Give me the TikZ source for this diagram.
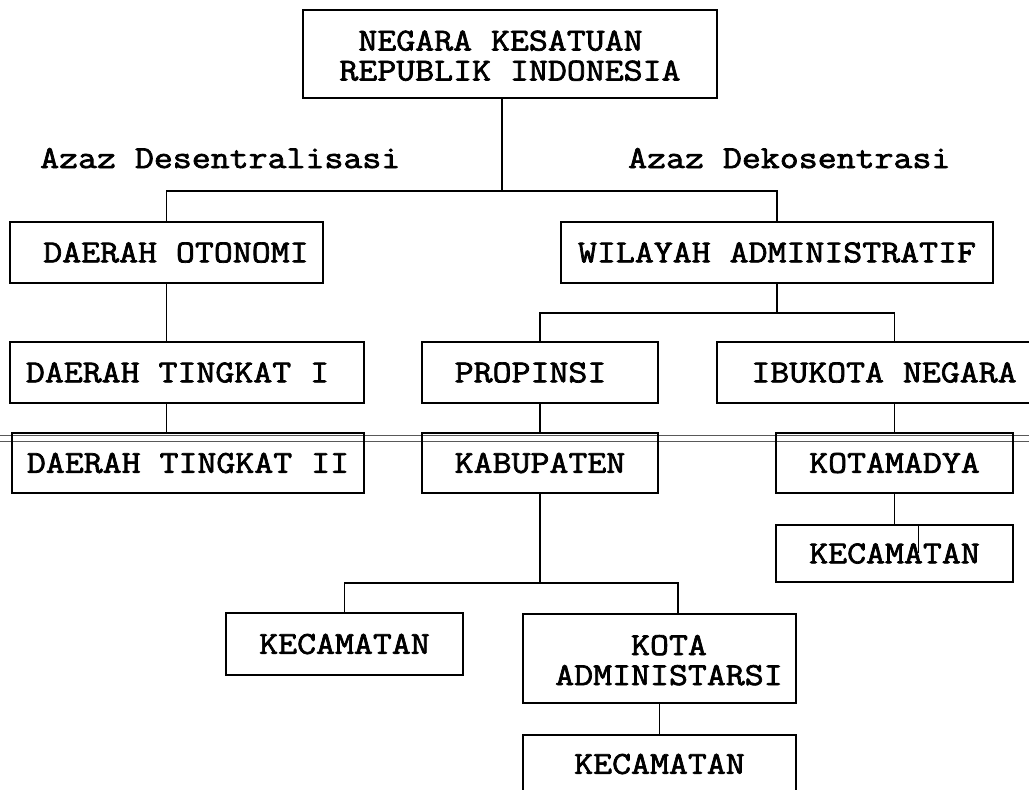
\documentclass[tikz,border=0pt]{standalone}
\usepackage{fontspec}
\newfontfamily\tw{Latin Modern Mono}[FakeStretch=1.15, FakeBold=2.2]
\tikzset{
  box/.style={draw, line width=2.5pt, inner sep=0pt, anchor=center,
    font=\tw\fontsize{32}{30}\selectfont},
  conn/.style={line width=1.7pt},
  lbl/.style={inner sep=0pt, font=\tw\fontsize{32}{30}\selectfont},
  artifact/.style={line width=0.8pt, black!65},
}
\begin{document}
\begin{tikzpicture}[x=1pt,y=-1pt]
\useasboundingbox[fill=white] (0,0) rectangle (1029,790);

% scan artifacts (double line across the sheet)
\draw[artifact] (0,435.5) -- (1029,435.5);
\draw[artifact] (0,441) -- (1029,441);

% boxes
\node[box, minimum width=414pt, minimum height=88pt] (ngr) at (510,54)
  {\begin{tabular}{@{}l@{}}\rule{0pt}{32pt}\hphantom{X}NEGARA KESATUAN\\REPUBLIK INDONESIA\end{tabular}};

\node[lbl, anchor=base west] (azd) at (40,168) {Azaz Desentralisasi};
\node[lbl, anchor=base west] (azk) at (628,168) {Azaz Dekosentrasi};

\node[box, minimum width=313pt, minimum height=61pt] (oto) at (166.5,252.5) {\hphantom{X}DAERAH OTONOMI};
\node[box, minimum width=432pt, minimum height=61pt] (wil) at (777,252.5) {WILAYAH ADMINISTRATIF};

\node[box, minimum width=354pt, minimum height=61pt] (tk1) at (187,372.5) {DAERAH TINGKAT I\hphantom{I}};
\node[box, minimum width=236pt, minimum height=61pt] (prop) at (540,372.5) {PROPINSI\hphantom{X}};
\node[box, minimum width=334pt, minimum height=61pt] (ibu) at (884,372.5) {IBUKOTA NEGARA};

\node[box, minimum width=352pt, minimum height=60pt] (tk2) at (188,463) {DAERAH TINGKAT II};
\node[box, minimum width=236pt, minimum height=60pt] (kab) at (540,463) {KABUPATEN};
\node[box, minimum width=237pt, minimum height=60pt] (kot) at (894.5,463) {KOTAMADYA};

\node[box, minimum width=237pt, minimum height=57pt] (kec1) at (894.5,553.5) {KECAMATAN};

\node[box, minimum width=237pt, minimum height=62pt] (kec2) at (344.5,644) {KECAMATAN};
\node[box, minimum width=273pt, minimum height=89pt] (kota) at (659.5,658.5)
  {\begin{tabular}{@{}c@{}}\rule{0pt}{32pt}\hphantom{X}KOTA\\\hphantom{X}ADMINISTARSI\end{tabular}};
\node[box, minimum width=273pt, minimum height=58pt] (kec3) at (659.5,764) {KECAMATAN};

% connectors
\coordinate (jt) at (502,191);
\draw[conn] (jt |- ngr.south) -- (jt);
\draw[conn] (oto.north) |- (jt -| wil.north) -- (wil.north);

\draw[conn] (oto.south) -- (oto.south |- tk1.north);
\draw[conn] (oto.south |- tk1.south) -- (oto.south |- tk2.north);

\coordinate (jw) at (777,313);
\draw[conn] (wil.south) -- (jw);
\draw[conn] (prop.north) |- (jw -| kot.north) -- (kot.north |- ibu.north);

\draw[conn] (prop.south) -- (kab.north);
\draw[conn] (kot.north |- ibu.south) -- (kot.north);
\draw[conn] (kot.south) -- (kec1.north);

\coordinate (jk) at (540,583);
\draw[conn] (kab.south) -- (jk);
\coordinate (jkr) at (678,583);
\draw[conn] (kec2.north) |- (jkr) -- (jkr |- kota.north);
\draw[conn] (kota.south) -- (kec3.north);

% small stray stroke inside the right KECAMATAN box
\draw[line width=1pt] (918,525) -- (918,553);
\end{tikzpicture}
\end{document}
